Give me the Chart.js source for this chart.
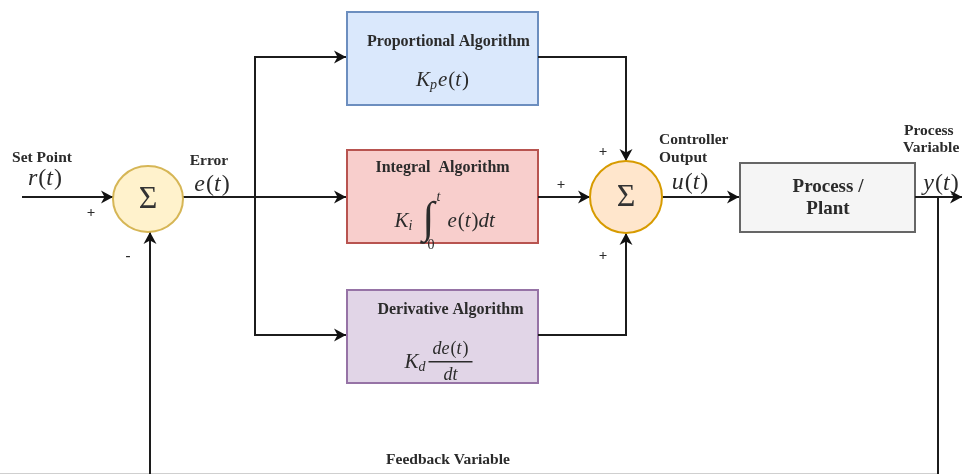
<!DOCTYPE html>
<html>
<head>
<meta charset="utf-8">
<script src="https://cdn.jsdelivr.net/npm/chart.js@4.4.1/dist/chart.umd.min.js"></script>
<style>
  html, body { margin: 0; padding: 0; background: #fff; }
  #wrap { width: 964px; height: 474px; }
</style>
</head>
<body>
<div id="wrap"><canvas id="pidChart" width="964" height="474"></canvas></div>
<script>
// ---- diagram content ----
const blockTitles = ['Proportional Algorithm', 'Integral  Algorithm', 'Derivative Algorithm'];
const plantLines = ['Process /', 'Plant'];
const signalNames = ['Set Point', 'Error', 'Controller', 'Output', 'Process', 'Variable', 'Feedback Variable'];
const signalSymbols = ['r', 'e', 'u', 'y'];
const sumSigns = ['+', '-', '+', '+', '+'];

// ---- layout (diagram units = pixels of the 964x474 drawing) ----
const blocks = [
  { x0: 347, y0: 12, x1: 538, y1: 105, fill: '#dae8fc', stroke: '#6c8ebf' },
  { x0: 347, y0: 150, x1: 538, y1: 243, fill: '#f8cecc', stroke: '#b85450' },
  { x0: 347, y0: 290, x1: 538, y1: 383, fill: '#e1d5e7', stroke: '#9673a6' },
  { x0: 740, y0: 163, x1: 915, y1: 232, fill: '#f5f5f5', stroke: '#666666' }
];
const sums = [
  { x: 148, y: 199, rx: 35, ry: 33, fill: '#fff2cc', stroke: '#d6b656' },
  { x: 626, y: 197, rx: 36, ry: 36, fill: '#ffe6cc', stroke: '#d79b00' }
];
const edges = [
  { pts: [[22, 197], [113, 197]], arrow: true },
  { pts: [[183, 197], [346, 197]], arrow: true },
  { pts: [[255, 197], [255, 57], [346, 57]], arrow: true },
  { pts: [[255, 197], [255, 335], [346, 335]], arrow: true },
  { pts: [[538, 57], [626, 57], [626, 161]], arrow: true },
  { pts: [[538, 197], [590, 197]], arrow: true },
  { pts: [[538, 335], [626, 335], [626, 233]], arrow: true },
  { pts: [[662, 197], [739, 197]], arrow: true },
  { pts: [[915, 197], [962, 197]], arrow: true },
  { pts: [[938, 197], [938, 474]], arrow: false },
  { pts: [[150, 474], [150, 232]], arrow: true },
  { pts: [[0, 473.5], [938, 473.5]], arrow: false, color: '#cfcfcf', width: 1 }
];

const FONT = '"Liberation Serif", "DejaVu Serif", serif';
const TEXT = '#2b2b2b';

const datasets = edges.map(e => ({
  data: e.pts.map(p => ({ x: p[0], y: p[1] })),
  showLine: true,
  borderColor: e.color || '#1c1c1c',
  borderWidth: e.width || 2,
  pointRadius: 0,
  tension: 0,
  fill: false,
  clip: 0,
  arrow: e.arrow
}));

// draw a row of text runs (math style) centred or left aligned
function drawRuns(ctx, list, x, y, align) {
  let w = 0;
  list.forEach(r => {
    ctx.font = (r.b ? 'bold ' : '') + (r.i ? 'italic ' : '') + r.s + 'px ' + FONT;
    r.w = ctx.measureText(r.t).width;
    w += r.w + (r.gap || 0);
  });
  let cx = align === 'left' ? x : x - w / 2;
  list.forEach(r => {
    ctx.font = (r.b ? 'bold ' : '') + (r.i ? 'italic ' : '') + r.s + 'px ' + FONT;
    ctx.textAlign = 'left';
    ctx.fillText(r.t, cx, y + (r.dy || 0));
    cx += r.w + (r.gap || 0);
  });
  return w;
}
function fnOfT(name, s) {
  return [{ t: name, i: 1, s: s, gap: 1 }, { t: '(', s: s }, { t: 't', i: 1, s: s, gap: 1 }, { t: ')', s: s }];
}

const diagramPlugin = {
  id: 'diagram',
  beforeDatasetsDraw(chart) {
    const { ctx, scales: { x, y } } = chart;
    ctx.save();
    blocks.forEach(b => {
      const px0 = x.getPixelForValue(b.x0), px1 = x.getPixelForValue(b.x1);
      const py0 = y.getPixelForValue(b.y0), py1 = y.getPixelForValue(b.y1);
      ctx.fillStyle = b.fill;
      ctx.fillRect(px0, py0, px1 - px0, py1 - py0);
      ctx.strokeStyle = b.stroke;
      ctx.lineWidth = 2;
      ctx.strokeRect(px0, py0, px1 - px0, py1 - py0);
    });
    ctx.restore();
  },
  afterDatasetsDraw(chart) {
    const { ctx, scales: { x, y } } = chart;
    const X = v => x.getPixelForValue(v), Y = v => y.getPixelForValue(v);
    ctx.save();

    // arrow heads on edge ends
    chart.data.datasets.forEach(ds => {
      if (!ds.arrow) return;
      const n = ds.data.length;
      const a = ds.data[n - 2], b = ds.data[n - 1];
      const ax = X(a.x), ay = Y(a.y), bx = X(b.x), by = Y(b.y);
      const ang = Math.atan2(by - ay, bx - ax);
      ctx.save();
      ctx.translate(bx, by);
      ctx.rotate(ang);
      ctx.fillStyle = '#111';
      ctx.beginPath();
      ctx.moveTo(0, 0);
      ctx.lineTo(-12, -6.5);
      ctx.lineTo(-8.5, 0);
      ctx.lineTo(-12, 6.5);
      ctx.closePath();
      ctx.fill();
      ctx.restore();
    });

    // summing junctions
    sums.forEach(s => {
      ctx.beginPath();
      ctx.ellipse(X(s.x), Y(s.y), s.rx, s.ry, 0, 0, Math.PI * 2);
      ctx.fillStyle = s.fill;
      ctx.fill();
      ctx.lineWidth = 2;
      ctx.strokeStyle = s.stroke;
      ctx.stroke();
      ctx.fillStyle = '#333';
      ctx.font = '32px ' + FONT;
      ctx.textAlign = 'center';
      ctx.textBaseline = 'middle';
      ctx.fillText('\u03A3', X(s.x), Y(s.y) + 1);
    });

    ctx.fillStyle = TEXT;
    ctx.textBaseline = 'middle';

    // block titles
    ctx.textAlign = 'center';
    ctx.font = 'bold 16px ' + FONT;
    const cx = X((blocks[0].x0 + blocks[0].x1) / 2);
    ctx.fillText(blockTitles[0], cx + 6, Y(42));
    ctx.fillText(blockTitles[1], cx, Y(168));
    ctx.fillText(blockTitles[2], cx + 8, Y(310));

    // proportional formula
    drawRuns(ctx, [{ t: 'K', i: 1, s: 21 }, { t: 'p', i: 1, s: 14, dy: 5, gap: 1 }].concat(fnOfT('e', 21)), cx, Y(80));

    // integral formula
    const iy = Y(221);
    let ix = cx - 48;
    ix += drawRuns(ctx, [{ t: 'K', i: 1, s: 21 }, { t: 'i', i: 1, s: 14, dy: 5 }], ix, iy, 'left') + 8;
    ctx.font = '44px ' + FONT;
    ctx.fillText('\u222B', ix + 2, iy - 1);
    ctx.font = 'italic 14px ' + FONT;
    ctx.fillText('t', ix + 16, iy - 24);
    ctx.font = '14px ' + FONT;
    ctx.fillText('0', ix + 7, iy + 24);
    drawRuns(ctx, fnOfT('e', 21).concat([{ t: 'dt', i: 1, s: 21 }]), ix + 27, iy, 'left');

    // derivative formula
    const dy0 = Y(362);
    let dx = cx - 38;
    dx += drawRuns(ctx, [{ t: 'K', i: 1, s: 21 }, { t: 'd', i: 1, s: 14, dy: 5 }], dx, dy0, 'left') + 3;
    drawRuns(ctx, [{ t: 'd', i: 1, s: 18 }].concat(fnOfT('e', 18)), dx + 22, dy0 - 13);
    ctx.fillRect(dx, dy0 - 1, 44, 1.5);
    drawRuns(ctx, [{ t: 'dt', i: 1, s: 18 }], dx + 22, dy0 + 13);

    // plant label
    ctx.font = 'bold 19px ' + FONT;
    ctx.textAlign = 'center';
    ctx.fillText(plantLines[0], X(828), Y(187));
    ctx.fillText(plantLines[1], X(828), Y(209));

    // signal labels
    ctx.font = 'bold 15.5px ' + FONT;
    ctx.fillText(signalNames[0], X(42), Y(158));
    ctx.fillText(signalNames[1], X(209), Y(161));
    ctx.textAlign = 'left';
    ctx.fillText(signalNames[2], X(659), Y(140));
    ctx.fillText(signalNames[3], X(659), Y(158));
    ctx.fillText(signalNames[4], X(904), Y(131));
    ctx.fillText(signalNames[5], X(903), Y(148));
    ctx.textAlign = 'center';
    ctx.fillText(signalNames[6], X(448), Y(460));

    drawRuns(ctx, fnOfT(signalSymbols[0], 24), X(45), Y(179));
    drawRuns(ctx, fnOfT(signalSymbols[1], 24), X(212), Y(185));
    drawRuns(ctx, fnOfT(signalSymbols[2], 24), X(690), Y(183));
    drawRuns(ctx, fnOfT(signalSymbols[3], 24), X(941), Y(184));

    // signs at the junctions
    ctx.font = 'bold 15px ' + FONT;
    ctx.textAlign = 'center';
    const signPos = [[91, 213], [128, 256], [603, 152], [561, 185], [603, 256]];
    signPos.forEach((p, k) => ctx.fillText(sumSigns[k], X(p[0]), Y(p[1])));

    ctx.restore();
  }
};

new Chart(document.getElementById('pidChart').getContext('2d'), {
  type: 'scatter',
  data: { datasets: datasets },
  options: {
    responsive: false,
    animation: false,
    layout: { padding: 0 },
    plugins: { legend: { display: false }, tooltip: { enabled: false } },
    scales: {
      x: { type: 'linear', min: 0, max: 964, display: false },
      y: { type: 'linear', min: 0, max: 474, reverse: true, display: false }
    }
  },
  plugins: [diagramPlugin]
});
</script>
</body>
</html>
